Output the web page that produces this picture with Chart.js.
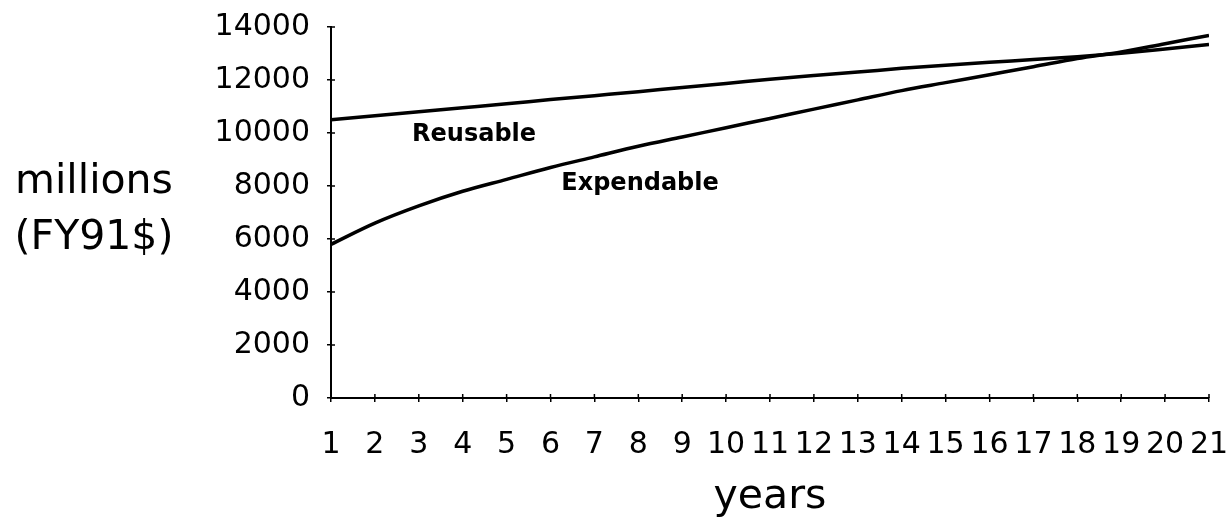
<!DOCTYPE html>
<html lang="en">
<head>
<meta charset="UTF-8">
<title>Reusable vs Expendable cost</title>
<script src="https://cdn.jsdelivr.net/npm/chart.js"></script>
<style>
  body { margin: 0; background: #fff; }
  #wrap { width: 1231px; height: 528px; }
</style>
</head>
<body>
<div id="wrap"><canvas id="chart" width="1231" height="528"></canvas></div>
<script>
// values (millions, FY91$)
const years = [1, 2, 3, 4, 5, 6, 7, 8, 9, 10, 11, 12, 13, 14, 15, 16, 17, 18, 19, 20, 21];
const reusable = [10500, 10650, 10800, 10950, 11100, 11260, 11410, 11560, 11720, 11870, 12030, 12170, 12300, 12440, 12560, 12670, 12770, 12880, 13010, 13170, 13340];
const expendable = [5800, 6600, 7250, 7800, 8250, 8700, 9100, 9500, 9850, 10200, 10550, 10900, 11250, 11600, 11900, 12200, 12500, 12810, 13060, 13370, 13680];
const yMax = 14000;
const yStep = 2000;
const yTitle = ['millions', '(FY91$)'];
const xTitle = 'years';
const seriesNames = ['Reusable', 'Expendable'];
// where the in-plot labels sit, in data units (year, value)
const labelAt = [[4.26, 9930], [8.04, 8080]];

const font = '"DejaVu Sans", "Liberation Sans", sans-serif';

// short tick marks on the inside of the axes, so each tick crosses the axis
const innerTicks = {
  id: 'innerTicks',
  afterDatasetsDraw(chart) {
    const ctx = chart.ctx;
    const xs = chart.scales.x, ys = chart.scales.y;
    const area = chart.chartArea;
    ctx.save();
    ctx.strokeStyle = '#000';
    ctx.lineWidth = 1.5;
    ctx.beginPath();
    xs.ticks.forEach(t => {
      const px = xs.getPixelForValue(t.value);
      ctx.moveTo(px, area.bottom);
      ctx.lineTo(px, area.bottom - 4);
    });
    ys.ticks.forEach(t => {
      const py = ys.getPixelForValue(t.value);
      ctx.moveTo(area.left, py);
      ctx.lineTo(area.left + 4, py);
    });
    ctx.stroke();
    ctx.restore();
  }
};

// horizontal y title and the series names written beside the lines
const textBits = {
  id: 'textBits',
  afterDraw(chart) {
    const ctx = chart.ctx;
    const area = chart.chartArea;
    const xs = chart.scales.x, ys = chart.scales.y;
    ctx.save();
    ctx.fillStyle = '#000';
    ctx.textAlign = 'center';
    ctx.textBaseline = 'middle';
    ctx.font = '41px ' + font;
    const mid = (area.top + area.bottom) / 2;
    ctx.fillText(yTitle[0], area.left - 237, mid - 30);
    ctx.fillText(yTitle[1], area.left - 237, mid + 26);
    ctx.font = 'bold 24px ' + font;
    seriesNames.forEach((name, i) => {
      ctx.fillText(name, xs.getPixelForValue(labelAt[i][0]), ys.getPixelForValue(labelAt[i][1]));
    });
    ctx.restore();
  }
};

const toPoints = vals => years.map((yr, i) => ({ x: yr, y: vals[i] }));

new Chart(document.getElementById('chart'), {
  type: 'line',
  data: {
    datasets: [
      { label: seriesNames[0], data: toPoints(reusable) },
      { label: seriesNames[1], data: toPoints(expendable) }
    ]
  },
  options: {
    responsive: false,
    animation: false,
    layout: { padding: { top: 27, right: 22, left: 0, bottom: 0 } },
    elements: {
      point: { radius: 0 },
      line: { borderColor: '#000', borderWidth: 3.5, cubicInterpolationMode: 'monotone', fill: false }
    },
    plugins: { legend: { display: false }, tooltip: { enabled: false } },
    scales: {
      x: {
        type: 'linear',
        min: years[0],
        max: years[years.length - 1],
        afterFit: s => { s.height = 130; s.paddingLeft = 0; s.paddingRight = 0; },
        grid: { drawOnChartArea: false, tickLength: 4, color: '#000', lineWidth: 1.5 },
        border: { color: '#000', width: 2 },
        ticks: {
          stepSize: 1, autoSkip: false, maxRotation: 0, padding: 25,
          color: '#000', font: { family: font, size: 30 }
        },
        title: {
          display: true, text: xTitle, color: '#000',
          font: { family: font, size: 41 }, padding: { top: 0, bottom: 6 }
        }
      },
      y: {
        min: 0,
        max: yMax,
        afterFit: s => { s.width = 331; s.paddingTop = 0; s.paddingBottom = 0; },
        grid: { drawOnChartArea: false, tickLength: 4, color: '#000', lineWidth: 1.5 },
        border: { color: '#000', width: 2 },
        ticks: {
          stepSize: yStep, padding: 17, color: '#000',
          font: { family: font, size: 30 },
          callback: v => String(v)
        }
      }
    }
  },
  plugins: [innerTicks, textBits]
});
</script>
</body>
</html>
